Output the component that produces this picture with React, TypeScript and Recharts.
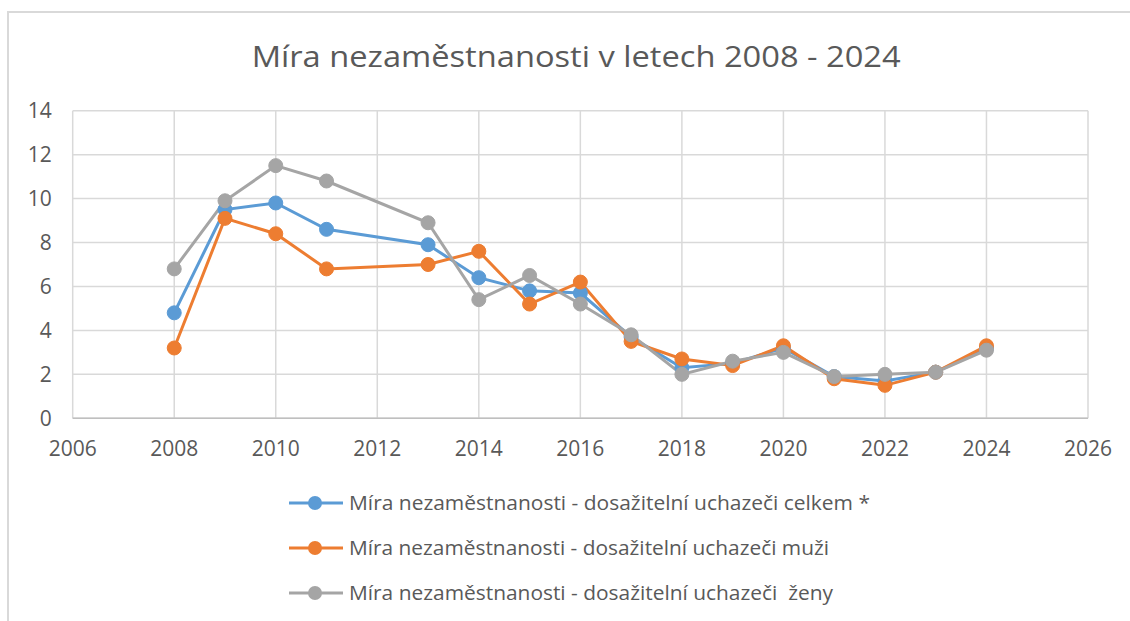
import React from 'react';
import { CartesianGrid, Line, LineChart, XAxis, YAxis } from 'recharts';

// Hodnoty (rok 2012 v datech chybí).
const YEARS = [2008, 2009, 2010, 2011, 2013, 2014, 2015, 2016, 2017, 2018, 2019, 2020, 2021, 2022, 2023, 2024];
const CELKEM = [4.8, 9.5, 9.8, 8.6, 7.9, 6.4, 5.8, 5.7, 3.7, 2.3, 2.5, 3.2, 1.9, 1.7, 2.1, 3.2];
const MUZI = [3.2, 9.1, 8.4, 6.8, 7.0, 7.6, 5.2, 6.2, 3.5, 2.7, 2.4, 3.3, 1.8, 1.5, 2.1, 3.3];
const ZENY = [6.8, 9.9, 11.5, 10.8, 8.9, 5.4, 6.5, 5.2, 3.8, 2.0, 2.6, 3.0, 1.9, 2.0, 2.1, 3.1];

const X_TICKS = [2006, 2008, 2010, 2012, 2014, 2016, 2018, 2020, 2022, 2024, 2026];
const Y_TICKS = [0, 2, 4, 6, 8, 10, 12, 14];

const TITLE = 'Míra nezaměstnanosti v letech 2008 - 2024';

const SERIES = [
  { key: 'celkem', name: 'Míra nezaměstnanosti - dosažitelní uchazeči celkem *', color: '#5b9bd5', textW: 521 },
  { key: 'muzi', name: 'Míra nezaměstnanosti - dosažitelní uchazeči muži', color: '#ed7d31', textW: 480 },
  { key: 'zeny', name: 'Míra nezaměstnanosti - dosažitelní uchazeči  ženy', color: '#a5a5a5', textW: 484 },
];

const data = YEARS.map((year, i) => ({
  year,
  celkem: CELKEM[i],
  muzi: MUZI[i],
  zeny: ZENY[i],
}));

const FONT = '"Open Sans", "Noto Sans", sans-serif';
const TEXT = '#595959';
const GRID = '#d9d9d9';

export default function App() {
  return (
    <div
      style={{
        position: 'absolute',
        left: 0,
        top: 0,
        width: 1130,
        height: 621,
        overflow: 'hidden',
        background: '#fff',
        fontFamily: FONT,
      }}
    >
      {/* rámeček oblasti grafu */}
      <div
        style={{
          position: 'absolute',
          left: 7,
          top: 11,
          width: 1140,
          height: 640,
          border: `2px solid ${GRID}`,
        }}
      />
      <div style={{ position: 'absolute', left: 0, top: 0 }}>
        <LineChart
          width={1130}
          height={621}
          data={data}
          margin={{ top: 110.7, right: 42, bottom: 162.7, left: 12.7 }}
        >
          <CartesianGrid stroke={GRID} strokeWidth={1.5} />
          <XAxis
            dataKey="year"
            type="number"
            domain={[2006, 2026]}
            ticks={X_TICKS}
            interval={0}
            height={40}
            tickSize={0}
            tickMargin={23}
            tickLine={false}
            axisLine={{ stroke: '#bfbfbf', strokeWidth: 1.5 }}
            tick={{ fontSize: 21, fill: TEXT, fontFamily: FONT }}
          />
          <YAxis
            domain={[0, 14]}
            ticks={Y_TICKS}
            interval={0}
            width={60}
            tickSize={0}
            tickMargin={21}
            tickLine={false}
            axisLine={false}
            tick={{ fontSize: 21, fill: TEXT, fontFamily: FONT }}
          />
          {SERIES.map((s) => (
            <Line
              key={s.key}
              type="linear"
              dataKey={s.key}
              name={s.name}
              stroke={s.color}
              strokeWidth={3}
              dot={{ r: 7, fill: s.color, stroke: s.color, strokeWidth: 1 }}
              isAnimationActive={false}
            />
          ))}
        </LineChart>
      </div>
      {/* nadpis a legenda */}
      <svg
        width={1130}
        height={621}
        style={{ position: 'absolute', left: 0, top: 0, pointerEvents: 'none' }}
      >
        <text
          x={251.7}
          y={67}
          fontSize={30}
          fill={TEXT}
          fontFamily={FONT}
          textLength={649}
          lengthAdjust="spacingAndGlyphs"
        >
          {TITLE}
        </text>
        {SERIES.map((s, i) => {
          const cy = 503 + i * 45;
          return (
            <g key={s.key}>
              <line x1={289} x2={343} y1={cy} y2={cy} stroke={s.color} strokeWidth={3} />
              <circle cx={315} cy={cy} r={7} fill={s.color} />
              <text
                x={349}
                y={cy + 7}
                fontSize={20}
                fill={TEXT}
                fontFamily={FONT}
                textLength={s.textW}
                lengthAdjust="spacingAndGlyphs"
                style={{ whiteSpace: 'pre' }}
              >
                {s.name}
              </text>
            </g>
          );
        })}
      </svg>
    </div>
  );
}
